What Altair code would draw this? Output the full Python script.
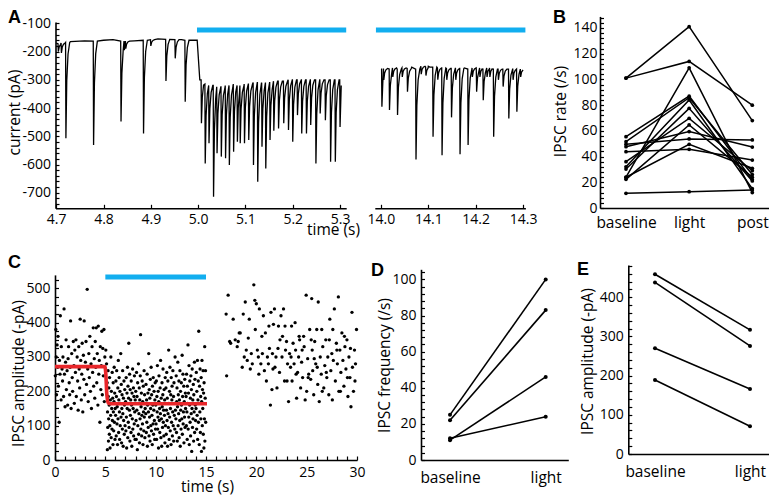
import altair as alt
import pandas as pd

W, H = 761, 488
FONT = "Open Sans"
BLACK = "black"
BLUE = "#12AEEF"
RED = "#E8262A"

# ------------------------------------------------------------------ data
# Panel A, segment 1 (4.7-5.3 s): events (time s, local baseline pA, peak pA)
A1_t = [4.7045, 4.7110, 4.7205, 4.7790, 4.8370, 4.8440, 4.8470, 4.8846, 4.9000,
        4.9320, 4.9516, 4.9727,
        5.0070, 5.0150, 5.0230, 5.0326, 5.0400, 5.0490, 5.0580, 5.0660, 5.0750,
        5.0830, 5.0890, 5.0980, 5.1070, 5.1170, 5.1260, 5.1350, 5.1430, 5.1520,
        5.1600, 5.1700, 5.1810, 5.1910, 5.2000, 5.2100, 5.2190, 5.2290, 5.2380,
        5.2490, 5.2580, 5.2690, 5.2800, 5.2900, 5.3000]
A1_base = [-172, -170, -168, -163, -163, -163, -163, -160, -158,
           -157, -158, -160,
           -300, -315, -320, -320, -325, -325, -320, -320, -315,
           -320, -320, -315, -315, -310, -310, -312, -310, -310,
           -305, -305, -305, -300, -300, -300, -300, -300, -300,
           -300, -300, -300, -300, -300, -300]
A1_peak = [-200, -205, -507, -531, -448, -195, -190, -490, -180,
           -304, -224, -378,
           -454, -596, -525, -714, -560, -572, -578, -602, -555,
           -519, -525, -525, -513, -602, -661, -537, -614, -513,
           -480, -472, -454, -478, -519, -425, -490, -490, -460,
           -596, -419, -443, -590, -590, -467]
A1_anchor_t = [4.7000, 4.7300, 4.7600, 4.8000, 4.8200, 4.8650, 4.9150, 4.9650, 4.9980, 5.0035, 5.3025]
A1_anchor_v = [-170, -165, -162, -160, -158, -162, -155, -158, -160, -300, -320]

# Panel A, segment 2 (14.0-14.3 s)
A2_t = [14.0020, 14.0060, 14.0180, 14.0250, 14.0350, 14.0450, 14.0560, 14.0740,
        14.0850, 14.0950, 14.1100, 14.1200, 14.1290, 14.1390, 14.1490, 14.1580,
        14.1670, 14.1840, 14.1930, 14.2020, 14.2090, 14.2160, 14.2240, 14.2300,
        14.2380, 14.2480, 14.2580, 14.2700, 14.2790, 14.2870, 14.2950]
A2_base = [-262, -260, -262, -258, -262, -258, -260, -262,
           -252, -255, -255, -258, -258, -260, -260, -260,
           -260, -262, -258, -262, -258, -262, -258, -258,
           -262, -262, -262, -262, -262, -262, -262]
A2_peak = [-395, -300, -407, -290, -425, -290, -342, -582,
           -280, -285, -502, -300, -567, -300, -433, -300,
           -564, -531, -290, -342, -290, -372, -290, -290,
           -502, -300, -324, -437, -300, -413, -290]
A2_anchor_t = [14.0000, 14.0650, 14.1000, 14.1760, 14.3000]
A2_anchor_v = [-262, -255, -252, -258, -265]

A1_light = [4.9976, 5.313]
A2_light = [13.9894, 14.305]
A_bar_level = [-124]

# Panel B: IPSC rate per cell
B_cats = ["baseline", "light", "post"]
B_base = [101, 101, 24, 55.5, 51.6, 32, 30.3, 36, 22.3, 47.7, 49.5, 43.8, 23.9, 11.4]
B_light = [141, 114, 109, 87, 85.8, 84, 77.5, 69.7, 64.6, 59.4, 53.7, 45.6, 49.5, 12.7]
B_post = [68, 80, 12, 22, 26, 15, 21, 29, 24, 47.4, 52.9, 37.3, 30.9, 14]

# Panel C: IPSC amplitudes over time
C_t_base = [0.03, 0.08, 0.12, 0.15, 0.21, 0.26, 0.3, 0.34, 0.41, 0.44, 0.5, 0.53, 0.6, 0.63, 0.7,
            0.75, 0.79, 0.85, 0.9, 0.94, 1.0, 1.05, 1.1, 1.13, 1.2, 1.26, 1.3, 1.35, 1.41, 1.46,
            1.5, 1.55, 1.6, 1.66, 1.71, 1.75, 1.82, 1.88, 1.92, 1.97, 2.03, 2.08, 2.12, 2.2, 2.25,
            2.3, 2.36, 2.4, 2.45, 2.5, 2.56, 2.61, 2.66, 2.7, 2.76, 2.82, 2.87, 2.9, 2.95, 3.02,
            3.08, 3.13, 3.2, 3.25, 3.3, 3.36, 3.41, 3.46, 3.52, 3.58, 3.62, 3.68, 3.74, 3.8, 3.84,
            3.9, 3.95, 4.0, 4.05, 4.1, 4.15, 4.2, 4.26, 4.3, 4.35, 4.4, 4.46, 4.5, 4.55, 4.6,
            4.65, 4.7, 4.75, 4.8, 4.86, 4.9, 4.95]
C_a_base = [245, 380, 300, 190, 335, 270, 360, 215, 110, 290, 250, 420, 175, 330, 265,
            230, 300, 185, 440, 250, 155, 285, 350, 205, 260, 160, 295, 330, 225, 190,
            270, 405, 150, 310, 240, 200, 345, 275, 165, 320, 255, 350, 185, 300, 230,
            145, 330, 265, 210, 410, 290, 175, 250, 340, 140, 305, 235, 405, 190, 285,
            345, 220, 497, 265, 170, 310, 240, 360, 200, 280, 150, 330, 255, 385, 215,
            295, 180, 345, 270, 385, 225, 310, 160, 390, 250, 290, 110, 330, 205, 275,
            375, 190, 325, 245, 380, 170, 300]
C_t_light = [
    5.05, 5.12, 5.18, 5.2, 5.22, 5.24, 5.27, 5.29, 5.31, 5.33, 5.35, 5.38, 5.4, 5.42, 5.45, 5.47, 5.5, 5.53,
    5.55, 5.58, 5.6, 5.63, 5.66, 5.68, 5.7, 5.73, 5.76, 5.78, 5.8, 5.83, 5.86, 5.88, 5.9, 5.93, 5.96, 5.98,
    6.02, 6.05, 6.08, 6.1, 6.13, 6.16, 6.18, 6.21, 6.24, 6.26, 6.29, 6.32, 6.34, 6.37, 6.4, 6.42, 6.45, 6.48,
    6.5, 6.53, 6.56, 6.58, 6.61, 6.64, 6.66, 6.69, 6.72, 6.74, 6.77, 6.8, 6.82, 6.85, 6.88, 6.9, 6.93, 6.96,
    7.01, 7.04, 7.07, 7.09, 7.12, 7.15, 7.17, 7.2, 7.23, 7.25, 7.28, 7.31, 7.33, 7.36, 7.39, 7.41, 7.44, 7.47,
    7.49, 7.52, 7.55, 7.57, 7.6, 7.63, 7.65, 7.68, 7.71, 7.73, 7.76, 7.79, 7.81, 7.84, 7.87, 7.89, 7.92, 7.95, 7.97,
    8.02, 8.05, 8.07, 8.1, 8.13, 8.15, 8.18, 8.21, 8.23, 8.26, 8.29, 8.31, 8.34, 8.37, 8.39, 8.42, 8.45, 8.47,
    8.5, 8.53, 8.55, 8.58, 8.61, 8.63, 8.66, 8.69, 8.71, 8.74, 8.77, 8.79, 8.82, 8.85, 8.87, 8.9, 8.93, 8.96,
    9.02, 9.04, 9.07, 9.1, 9.12, 9.15, 9.18, 9.2, 9.23, 9.26, 9.28, 9.31, 9.34, 9.36, 9.39, 9.42, 9.44, 9.47,
    9.5, 9.52, 9.55, 9.58, 9.6, 9.63, 9.66, 9.68, 9.71, 9.74, 9.76, 9.79, 9.82, 9.84, 9.87, 9.9, 9.92, 9.95, 9.98,
    10.01, 10.04, 10.07, 10.09, 10.12, 10.15, 10.17, 10.2, 10.23, 10.25, 10.28, 10.31, 10.33, 10.36, 10.39,
    10.41, 10.44, 10.47, 10.49, 10.52, 10.55, 10.57, 10.6, 10.63, 10.65, 10.68, 10.71, 10.73, 10.76, 10.79,
    10.81, 10.84, 10.87, 10.89, 10.92, 10.95, 10.97,
    11.02, 11.05, 11.07, 11.1, 11.13, 11.15, 11.18, 11.21, 11.23, 11.26, 11.29, 11.31, 11.34, 11.37, 11.39,
    11.42, 11.45, 11.47, 11.5, 11.53, 11.55, 11.58, 11.61, 11.63, 11.66, 11.69, 11.71, 11.74, 11.77, 11.79,
    11.82, 11.85, 11.87, 11.9, 11.93, 11.96,
    12.01, 12.04, 12.07, 12.09, 12.12, 12.15, 12.17, 12.2, 12.23, 12.25, 12.28, 12.31, 12.33, 12.36, 12.39,
    12.41, 12.44, 12.47, 12.49, 12.52, 12.55, 12.57, 12.6, 12.63, 12.65, 12.68, 12.71, 12.73, 12.76, 12.79,
    12.81, 12.84, 12.87, 12.89, 12.92, 12.95, 12.97,
    13.02, 13.05, 13.07, 13.1, 13.13, 13.15, 13.18, 13.21, 13.23, 13.26, 13.29, 13.31, 13.34, 13.37, 13.39,
    13.42, 13.45, 13.47, 13.5, 13.53, 13.55, 13.58, 13.61, 13.63, 13.66, 13.69, 13.71, 13.74, 13.77, 13.79,
    13.82, 13.85, 13.87, 13.9, 13.93, 13.96,
    14.01, 14.04, 14.07, 14.09, 14.12, 14.15, 14.17, 14.2, 14.23, 14.25, 14.28, 14.31, 14.33, 14.36, 14.39,
    14.41, 14.44, 14.47, 14.49, 14.52, 14.55, 14.57, 14.6, 14.63, 14.65, 14.68, 14.71, 14.73, 14.76, 14.79,
    14.81, 14.84, 14.87, 14.89, 14.92, 14.95, 14.97]
C_a_light = [
    320, 280, 225, 30, 140, 95, 260, 185, 55, 120, 210, 160, 75, 240, 100, 35, 175, 130,
    300, 65, 200, 150, 90, 255, 115, 180, 45, 225, 140, 85, 170, 270, 110, 195, 60, 150,
    130, 230, 70, 185, 260, 105, 155, 45, 210, 120, 290, 80, 175, 240, 140, 60, 200, 100,
    165, 310, 125, 220, 50, 150, 190, 90, 260, 135, 40, 180, 115, 230, 75, 160, 205, 100,
    170, 85, 240, 125, 35, 195, 150, 270, 65, 215, 110, 180, 340, 95, 145, 250, 55, 205,
    130, 175, 80, 230, 160, 40, 195, 120, 265, 90, 150, 210, 70, 185, 105, 245, 140, 60, 175,
    200, 115, 60, 255, 145, 185, 30, 225, 100, 165, 280, 75, 135, 210, 50, 175, 120, 245,
    365, 90, 155, 195, 70, 130, 230, 105, 170, 45, 215, 140, 85, 260, 125, 190, 65, 150,
    135, 220, 80, 175, 110, 250, 40, 160, 195, 95, 140, 310, 70, 205, 125, 180, 55, 235,
    150, 100, 270, 85, 190, 130, 45, 215, 160, 105, 240, 75, 145, 200, 115, 60, 175, 225, 90,
    160, 105, 230, 60, 185, 140, 275, 90, 125, 200, 35, 170, 245, 115, 150,
    80, 210, 135, 290, 65, 180, 120, 40, 225, 155, 95, 190, 265, 110, 145,
    70, 205, 130, 175, 50, 240, 100,
    210, 75, 145, 255, 115, 180, 40, 230, 135, 95, 320, 165, 60, 200, 125,
    270, 85, 150, 190, 45, 240, 110, 175, 215, 70, 140, 260, 100, 185, 55,
    225, 130, 165, 90, 300, 145,
    120, 245, 80, 170, 210, 55, 155, 285, 100, 190, 135, 230, 65, 175, 115,
    260, 40, 200, 145, 90, 225, 160, 120, 305, 75, 185, 250, 105, 140, 215,
    50, 170, 125, 235, 95, 195, 150,
    185, 100, 250, 140, 60, 215, 165, 335, 90, 195, 125, 275, 45, 160, 230,
    110, 180, 70, 245, 135, 205, 25, 150, 265, 95, 175, 120, 220, 55, 190,
    140, 285, 80, 235, 160, 115,
    150, 255, 90, 200, 130, 290, 60, 175, 230, 110, 375, 165, 45, 215, 140,
    265, 80, 185, 120, 240, 25, 170, 290, 100, 205, 150, 260, 75, 195, 35,
    225, 120, 330, 55, 180, 260, 110]
C_t_post = [17.0, 17.05, 17.2, 17.35, 17.45, 17.7, 17.9, 18.1, 18.3, 18.4, 18.6, 18.8, 18.9, 19.0, 19.1,
            19.3, 19.4, 19.5, 19.6, 19.75, 19.85, 20.0, 20.1, 20.2, 20.3, 20.45, 20.6, 20.7, 20.8, 20.9,
            21.0, 21.1, 21.2, 21.3, 21.4, 21.45, 21.55, 21.6, 21.7, 21.8, 21.85, 21.95, 22.05, 22.15, 22.2,
            22.3, 22.45, 22.55, 22.6, 22.7, 22.8, 22.9, 23.0, 23.1, 23.2, 23.3, 23.4, 23.5, 23.55, 23.65,
            23.75, 23.85, 23.9, 24.0, 24.1, 24.2, 24.3, 24.4, 24.5, 24.6, 24.7, 24.75, 24.85, 24.95, 25.0,
            25.1, 25.2, 25.3, 25.4, 25.5, 25.55, 25.6, 25.7, 25.8, 25.9, 26.0, 26.1, 26.15, 26.25, 26.35,
            26.45, 26.5, 26.6, 26.7, 26.8, 26.9, 27.0, 27.1, 27.2, 27.3, 27.4, 27.5, 27.55, 27.65, 27.75,
            27.85, 27.95, 28.05, 28.15, 28.2, 28.3, 28.4, 28.5, 28.6, 28.7, 28.8, 28.9, 29.0, 29.1, 29.2,
            29.3, 29.4, 29.5, 29.55, 29.65, 29.75, 29.85, 29.95,
            18.2, 18.7, 19.2, 19.9, 20.25, 20.55, 21.25, 21.65, 22.35, 22.85, 23.05, 23.45, 23.95, 24.25,
            24.55, 25.15, 25.45, 25.75, 26.05, 26.55, 26.95, 27.25, 27.6, 28.0, 28.35, 28.75, 29.05, 29.35, 29.8]
C_a_post = [425, 245, 480, 345, 340, 410, 350, 330, 370, 370, 270, 300, 460, 320, 290,
            410, 265, 310, 280, 510, 465, 455, 320, 300, 440, 280, 310, 420, 260, 370,
            230, 300, 280, 325, 160, 430, 205, 310, 395, 440, 270, 300, 210, 325, 390,
            255, 420, 300, 360, 440, 230, 320, 345, 280, 170, 310, 270, 390, 230, 340,
            280, 400, 320, 180, 255, 300, 350, 210, 285, 240, 360, 330, 175, 480, 200,
            295, 250, 380, 235, 470, 320, 260, 190, 345, 280, 380, 220, 460, 170, 300,
            250, 380, 330, 210, 275, 350, 240, 300, 190, 410, 260, 310, 175, 290, 440,
            230, 340, 280, 475, 200, 320, 255, 370, 290, 215, 330, 265, 350, 185, 300,
            240, 155, 430, 270, 200, 320, 280, 380,
            345, 425, 355, 380, 250, 360, 390, 265, 350, 390, 230, 300, 250, 360,
            320, 240, 350, 295, 270, 200, 255, 350, 380, 320, 200, 360, 240, 325, 230]
C_fit_t = [0, 4.95, 5.05, 5.15, 5.3, 5.5, 15.1]
C_fit_a = [272, 272, 250, 190, 166, 164, 164]
C_light = [5.0, 15.0]
C_bar_level = [533]

# Panel D: IPSC frequency, Panel E: IPSC amplitude
D_base = [25, 22, 11, 12]
D_light = [100, 83, 46, 24]
E_base = [459, 438, 270, 189]
E_light = [317, 276, 166, 71]


# ------------------------------------------------------------------ helpers
def S(dom, rng):
    return alt.Scale(domain=list(dom), range=list(rng), zero=False, nice=False)


def ax_left(X, values, title, tx, ty, pad=4):
    return alt.Axis(orient="left", offset=-X, values=values, ticks=False, tickSize=0,
                    domain=True, domainColor=BLACK, domainWidth=1.6, grid=False,
                    labelFont=FONT, labelFontSize=14, labelColor=BLACK, labelPadding=pad,
                    labelExpr="'' + datum.value", labelFlush=False, labelOverlap=False,
                    title=title, titleX=tx, titleY=ty, titleAngle=270, titleAlign="center",
                    titleBaseline="alphabetic", titleFont=FONT, titleFontSize=15.5,
                    titleFontWeight="normal", titleColor=BLACK)


def ax_bottom(Y, values, pad, fmt=None, expr=None, size=14, title=None, tx=0, ty=0):
    kw = dict(orient="bottom", offset=Y - H, values=values, ticks=False, tickSize=0,
              domain=True, domainColor=BLACK, domainWidth=1.6, grid=False,
              labelFont=FONT, labelFontSize=size, labelColor=BLACK, labelPadding=pad,
              labelFlush=False, labelOverlap=False, labelAngle=0)
    if fmt:
        kw["format"] = fmt
    if expr:
        kw["labelExpr"] = expr
    if title:
        kw.update(title=title, titleX=tx, titleY=ty, titleAlign="center",
                  titleBaseline="alphabetic", titleFont=FONT, titleFontSize=15.5,
                  titleFontWeight="normal", titleColor=BLACK)
    else:
        kw["title"] = None
    return alt.Axis(**kw)


def ax_ticks(orient, pos, values, size=4):
    off = pos - W if orient == "right" else -pos
    return alt.Axis(orient=orient, offset=off, values=values, ticks=True, tickSize=size,
                    tickColor=BLACK, tickWidth=1.2, labels=False, domain=False, grid=False,
                    title=None)


def frame(xs, ys, xaxis, yaxis):
    d = pd.DataFrame({"x": [xs[0][0]], "y": [ys[0][0]]})
    return alt.Chart(d).mark_point(opacity=0).encode(
        x=alt.X("x:Q", scale=S(*xs), axis=xaxis),
        y=alt.Y("y:Q", scale=S(*ys), axis=yaxis))


def build_trace(ev_t, ev_b, ev_p, an_t, an_v):
    pts = list(zip(an_t, an_v))
    for i, (t, b, p) in enumerate(zip(ev_t, ev_b, ev_p)):
        nxt = ev_t[i + 1] if i + 1 < len(ev_t) else max(an_t)
        pts.append((t - 0.0007, b))
        pts.append((t, p))
        for dt, f in ((0.0018, 0.4), (0.0045, 0.12), (0.008, 0.0)):
            if t + dt < nxt - 0.0009:
                pts.append((t + dt, b + (p - b) * f))
    pts.sort()
    return pd.DataFrame(pts, columns=["t", "v"])


# ------------------------------------------------------------------ scales (plot px)
A1X = ([4.6985, 5.313], [47.5, 338.2])
A2X = ([13.987, 14.305], [366.8, 517.4])
AY = ([-755, -95], [200.3, 13.9])
BX = ([0.5883, 3.2645], [592, 761])
BY = ([0, 149], [200, 8.4])
CX = ([0, 30], [47, 349])
CY = ([0, 539], [452, 266.9])
DX = ([0.697, 2.236], [413, 560.3])
DY = ([0, 105.6], [452, 261.3])
EX = ([0.719, 2.2], [620.3, 761])
EY = ([0, 482.5], [446, 257])

layers = []

# ---------------- panel A
layers.append(frame(A1X, AY,
                    ax_bottom(200.3, [4.7, 4.8, 4.9, 5.0, 5.1, 5.2, 5.3], 4, fmt=".1f",
                              title="time (s)", tx=325, ty=26),
                    ax_left(47.5, list(range(-700, 0, 100)), "current (pA)", -35.7, 104, pad=5)))
layers.append(frame(A1X, AY,
                    ax_ticks("top", 200.3, [4.7, 4.8, 4.9, 5.0, 5.1, 5.2, 5.3]),
                    ax_ticks("right", 47.5, list(range(-740, -99, 20)), size=3.5)))
layers.append(frame(A2X, AY,
                    ax_bottom(200.3, [14.0, 14.1, 14.2, 14.3], 4, fmt=".1f"), None))
layers.append(frame(A2X, AY, ax_ticks("top", 200.3, [14.0, 14.1, 14.2, 14.3]), None))

tr1 = build_trace(A1_t, A1_base, A1_peak, A1_anchor_t, A1_anchor_v)
tr2 = build_trace(A2_t, A2_base, A2_peak, A2_anchor_t, A2_anchor_v)
for tr, xs in ((tr1, A1X), (tr2, A2X)):
    layers.append(alt.Chart(tr).mark_line(color=BLACK, strokeWidth=1.3, interpolate="linear").encode(
        x=alt.X("t:Q", scale=S(*xs), axis=None),
        y=alt.Y("v:Q", scale=S(*AY), axis=None)))
for lt, xs in ((A1_light, A1X), (A2_light, A2X)):
    d = pd.DataFrame({"x": [lt[0]], "x2": [lt[1]], "y": A_bar_level})
    layers.append(alt.Chart(d).mark_rule(color=BLUE, strokeWidth=5).encode(
        x=alt.X("x:Q", scale=S(*xs), axis=None), x2="x2:Q",
        y=alt.Y("y:Q", scale=S(*AY), axis=None)))

# ---------------- panel B
layers.append(frame(BX, BY,
                    ax_bottom(200, [1, 2, 3], 7, size=15.5,
                              expr="['', 'baseline', 'light', 'post'][datum.value]"),
                    ax_left(592, list(range(0, 141, 20)), "IPSC rate (/s)", -35, 103, pad=3)))
layers.append(frame(BX, BY, None, ax_ticks("right", 592, list(range(0, 149, 4)), size=3.5)))
brows = []
for i, (a, b, c) in enumerate(zip(B_base, B_light, B_post)):
    for k, v in enumerate((a, b, c)):
        brows.append({"cell": i, "pos": k + 1, "rate": v})
bdf = pd.DataFrame(brows)
benc = dict(x=alt.X("pos:Q", scale=S(*BX), axis=None),
            y=alt.Y("rate:Q", scale=S(*BY), axis=None))
layers.append(alt.Chart(bdf).mark_line(color=BLACK, strokeWidth=1.5).encode(detail="cell:N", **benc))
layers.append(alt.Chart(bdf).mark_circle(color=BLACK, size=14, opacity=1).encode(**benc))

# ---------------- panel C
layers.append(frame(CX, CY,
                    ax_bottom(452, list(range(0, 31, 5)), 5, title="time (s)", tx=199, ty=31),
                    ax_left(47, list(range(0, 501, 100)), "IPSC amplitude (-pA)", -32, 365, pad=5)))
layers.append(frame(CX, CY, ax_ticks("top", 452, list(range(0, 31))),
                    ax_ticks("right", 47, list(range(0, 526, 25)), size=3.5)))
cdf = pd.DataFrame({"t": C_t_base + C_t_light + C_t_post, "amp": C_a_base + C_a_light + C_a_post})
layers.append(alt.Chart(cdf).mark_circle(color=BLACK, size=11, opacity=1).encode(
    x=alt.X("t:Q", scale=S(*CX), axis=None), y=alt.Y("amp:Q", scale=S(*CY), axis=None)))
fdf = pd.DataFrame({"t": C_fit_t, "amp": C_fit_a})
layers.append(alt.Chart(fdf).mark_line(color=RED, strokeWidth=3.6, interpolate="monotone").encode(
    x=alt.X("t:Q", scale=S(*CX), axis=None), y=alt.Y("amp:Q", scale=S(*CY), axis=None)))
cbar = pd.DataFrame({"x": [C_light[0]], "x2": [C_light[1]], "y": C_bar_level})
layers.append(alt.Chart(cbar).mark_rule(color=BLUE, strokeWidth=5).encode(
    x=alt.X("x:Q", scale=S(*CX), axis=None), x2="x2:Q",
    y=alt.Y("y:Q", scale=S(*CY), axis=None)))

# ---------------- panels D and E
for XS, YS, base, light, Yaxis, Xaxis, yvals, tvals, title, tx, ty, pad in (
        (DX, DY, D_base, D_light, 452, 413, list(range(0, 101, 20)), list(range(0, 105, 4)),
         "IPSC frequency (/s)", -32, 357, 10.5),
        (EX, EY, E_base, E_light, 446, 620.3, list(range(0, 401, 100)), list(range(0, 481, 20)),
         "IPSC amplitude (-pA)", -36.3, 353, 10)):
    layers.append(frame(XS, YS,
                        ax_bottom(Yaxis, [1, 2], pad, size=15.5,
                                  expr="['', 'baseline', 'light'][datum.value]"),
                        ax_left(Xaxis, yvals, title, tx, ty, pad=5)))
    layers.append(frame(XS, YS, None, ax_ticks("right", Xaxis, tvals, size=3.5)))
    rows = []
    for i, (a, b) in enumerate(zip(base, light)):
        rows.append({"cell": i, "pos": 1, "v": a})
        rows.append({"cell": i, "pos": 2, "v": b})
    df = pd.DataFrame(rows)
    enc = dict(x=alt.X("pos:Q", scale=S(*XS), axis=None), y=alt.Y("v:Q", scale=S(*YS), axis=None))
    layers.append(alt.Chart(df).mark_line(color=BLACK, strokeWidth=1.6).encode(detail="cell:N", **enc))
    layers.append(alt.Chart(df).mark_circle(color=BLACK, size=16, opacity=1).encode(**enc))

# ---------------- panel letters
one = pd.DataFrame({"k": [0]})
for letter, px, py in (("A", 0, 15), ("B", 545, 15), ("C", 0, 260), ("D", 363, 268), ("E", 569, 267)):
    layers.append(alt.Chart(one).mark_text(text=letter, font="Liberation Sans", fontSize=18,
                                           fontWeight="bold", color=BLACK, align="left",
                                           baseline="alphabetic").encode(
        x=alt.value(px), y=alt.value(py)))

chart = alt.layer(*layers).resolve_scale(x="independent", y="independent").properties(
    width=W, height=H, padding=0, autosize=alt.AutoSizeParams(type="none"),
    background="white").configure_view(stroke=None)

chart.save("out.html", embed_options={"renderer": "svg", "actions": False})
